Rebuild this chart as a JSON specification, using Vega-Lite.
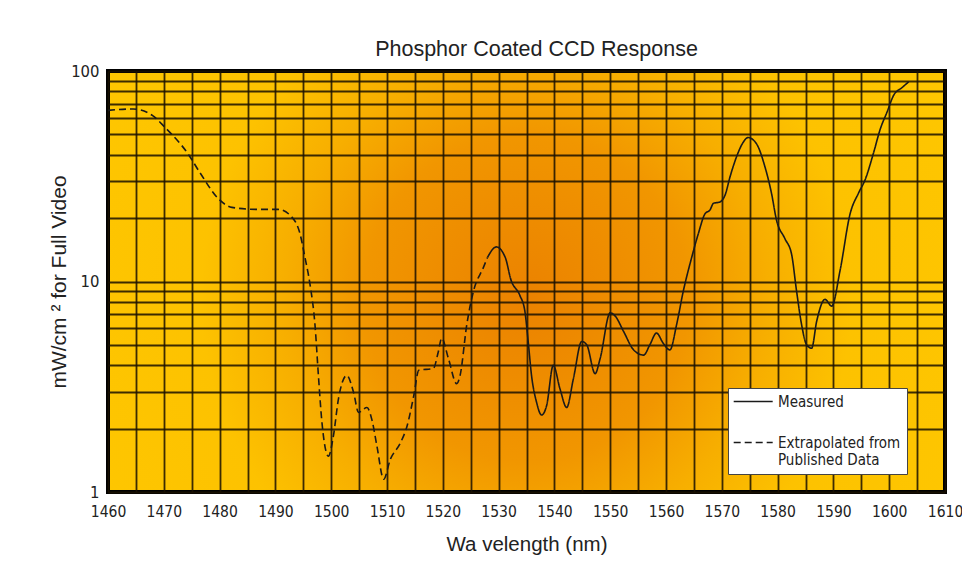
{
  "$schema": "https://vega.github.io/schema/vega-lite/v6.json",
  "width": 837,
  "height": 421,
  "autosize": {"type": "none"},
  "padding": {"left": 108, "top": 71, "right": 17, "bottom": 70},
  "background": "white",
  "title": {
    "text": "Phosphor Coated CCD Response",
    "font": "Liberation Sans",
    "fontSize": 21.5,
    "fontWeight": "normal",
    "color": "#222",
    "offset": 3,
    "dx": 10
  },
  "config": {
    "view": {
      "fill": {
        "gradient": "radial",
        "x1": 0.5, "y1": 0.52, "r1": 0,
        "x2": 0.5, "y2": 0.52, "r2": 0.72,
        "stops": [
          {"offset": 0, "color": "#EB8200"},
          {"offset": 0.27, "color": "#F19600"},
          {"offset": 0.4, "color": "#F7AE00"},
          {"offset": 0.54, "color": "#FDC200"},
          {"offset": 1, "color": "#FFCA00"}
        ]
      },
      "stroke": "#000",
      "strokeWidth": 4
    },
    "font": "DejaVu Sans Condensed, Liberation Sans Narrow, sans-serif"
  },
  "data": {
    "values": [
      {"x": 1460, "y": 65, "series": "Extrapolated from Published Data"},
      {"x": 1464.5, "y": 66, "series": "Extrapolated from Published Data"},
      {"x": 1468, "y": 61.4, "series": "Extrapolated from Published Data"},
      {"x": 1470.2, "y": 54, "series": "Extrapolated from Published Data"},
      {"x": 1474.4, "y": 40.2, "series": "Extrapolated from Published Data"},
      {"x": 1476.5, "y": 32.8, "series": "Extrapolated from Published Data"},
      {"x": 1480, "y": 24.4, "series": "Extrapolated from Published Data"},
      {"x": 1482.2, "y": 22.5, "series": "Extrapolated from Published Data"},
      {"x": 1486.6, "y": 22, "series": "Extrapolated from Published Data"},
      {"x": 1490.5, "y": 22, "series": "Extrapolated from Published Data"},
      {"x": 1492.9, "y": 20.3, "series": "Extrapolated from Published Data"},
      {"x": 1494.4, "y": 16.9, "series": "Extrapolated from Published Data"},
      {"x": 1495.3, "y": 13, "series": "Extrapolated from Published Data"},
      {"x": 1496.2, "y": 9.7, "series": "Extrapolated from Published Data"},
      {"x": 1497.1, "y": 6.2, "series": "Extrapolated from Published Data"},
      {"x": 1497.7, "y": 3.6, "series": "Extrapolated from Published Data"},
      {"x": 1498.3, "y": 2.2, "series": "Extrapolated from Published Data"},
      {"x": 1499.5, "y": 1.48, "series": "Extrapolated from Published Data"},
      {"x": 1500.4, "y": 1.85, "series": "Extrapolated from Published Data"},
      {"x": 1501.3, "y": 2.77, "series": "Extrapolated from Published Data"},
      {"x": 1502.8, "y": 3.58, "series": "Extrapolated from Published Data"},
      {"x": 1504, "y": 2.98, "series": "Extrapolated from Published Data"},
      {"x": 1504.9, "y": 2.39, "series": "Extrapolated from Published Data"},
      {"x": 1506.4, "y": 2.52, "series": "Extrapolated from Published Data"},
      {"x": 1507.3, "y": 2.2, "series": "Extrapolated from Published Data"},
      {"x": 1508.2, "y": 1.65, "series": "Extrapolated from Published Data"},
      {"x": 1509.4, "y": 1.15, "series": "Extrapolated from Published Data"},
      {"x": 1510.6, "y": 1.43, "series": "Extrapolated from Published Data"},
      {"x": 1512.4, "y": 1.71, "series": "Extrapolated from Published Data"},
      {"x": 1513.6, "y": 2.06, "series": "Extrapolated from Published Data"},
      {"x": 1514.8, "y": 2.87, "series": "Extrapolated from Published Data"},
      {"x": 1515.7, "y": 3.79, "series": "Extrapolated from Published Data"},
      {"x": 1518.3, "y": 3.86, "series": "Extrapolated from Published Data"},
      {"x": 1519.2, "y": 4.64, "series": "Extrapolated from Published Data"},
      {"x": 1519.8, "y": 5.38, "series": "Extrapolated from Published Data"},
      {"x": 1521, "y": 4.31, "series": "Extrapolated from Published Data"},
      {"x": 1522.5, "y": 3.27, "series": "Extrapolated from Published Data"},
      {"x": 1523.1, "y": 3.58, "series": "Extrapolated from Published Data"},
      {"x": 1524.3, "y": 6.24, "series": "Extrapolated from Published Data"},
      {"x": 1525.5, "y": 9.0, "series": "Extrapolated from Published Data"},
      {"x": 1527.3, "y": 11.7, "series": "Extrapolated from Published Data"},
      {"x": 1528, "y": 13.0, "series": "Extrapolated from Published Data"},
      {"x": 1528, "y": 13.0, "series": "Measured"},
      {"x": 1529.6, "y": 14.6, "series": "Measured"},
      {"x": 1531.2, "y": 13, "series": "Measured"},
      {"x": 1532.2, "y": 10.2, "series": "Measured"},
      {"x": 1533.8, "y": 8.6, "series": "Measured"},
      {"x": 1534.7, "y": 7.25, "series": "Measured"},
      {"x": 1535.3, "y": 5.19, "series": "Measured"},
      {"x": 1535.9, "y": 3.58, "series": "Measured"},
      {"x": 1536.8, "y": 2.67, "series": "Measured"},
      {"x": 1537.7, "y": 2.32, "series": "Measured"},
      {"x": 1538.6, "y": 2.57, "series": "Measured"},
      {"x": 1539.8, "y": 4.0, "series": "Measured"},
      {"x": 1541, "y": 3.09, "series": "Measured"},
      {"x": 1542.2, "y": 2.52, "series": "Measured"},
      {"x": 1543.4, "y": 3.45, "series": "Measured"},
      {"x": 1544.9, "y": 5.19, "series": "Measured"},
      {"x": 1545.8, "y": 5.0, "series": "Measured"},
      {"x": 1547.3, "y": 3.65, "series": "Measured"},
      {"x": 1548.2, "y": 4.31, "series": "Measured"},
      {"x": 1550, "y": 7.1, "series": "Measured"},
      {"x": 1550.9, "y": 6.85, "series": "Measured"},
      {"x": 1552.4, "y": 5.79, "series": "Measured"},
      {"x": 1554.2, "y": 4.73, "series": "Measured"},
      {"x": 1556, "y": 4.47, "series": "Measured"},
      {"x": 1557.1, "y": 5.0, "series": "Measured"},
      {"x": 1558.3, "y": 5.69, "series": "Measured"},
      {"x": 1559.5, "y": 5.09, "series": "Measured"},
      {"x": 1560.7, "y": 4.73, "series": "Measured"},
      {"x": 1561.9, "y": 6.24, "series": "Measured"},
      {"x": 1563.1, "y": 9.0, "series": "Measured"},
      {"x": 1564.6, "y": 13, "series": "Measured"},
      {"x": 1565.8, "y": 16.9, "series": "Measured"},
      {"x": 1567, "y": 21, "series": "Measured"},
      {"x": 1567.9, "y": 21.9, "series": "Measured"},
      {"x": 1568.5, "y": 23.5, "series": "Measured"},
      {"x": 1569.7, "y": 23.9, "series": "Measured"},
      {"x": 1570.6, "y": 25.8, "series": "Measured"},
      {"x": 1571.5, "y": 31.6, "series": "Measured"},
      {"x": 1572.7, "y": 39.5, "series": "Measured"},
      {"x": 1573.8, "y": 45.7, "series": "Measured"},
      {"x": 1574.7, "y": 48.3, "series": "Measured"},
      {"x": 1576.2, "y": 45.2, "series": "Measured"},
      {"x": 1577.7, "y": 35.3, "series": "Measured"},
      {"x": 1578.9, "y": 26.3, "series": "Measured"},
      {"x": 1579.8, "y": 19.6, "series": "Measured"},
      {"x": 1581.3, "y": 16, "series": "Measured"},
      {"x": 1582.5, "y": 13.5, "series": "Measured"},
      {"x": 1583.4, "y": 9.0, "series": "Measured"},
      {"x": 1584.3, "y": 6.24, "series": "Measured"},
      {"x": 1585.2, "y": 5.0, "series": "Measured"},
      {"x": 1586.1, "y": 4.82, "series": "Measured"},
      {"x": 1587, "y": 6.47, "series": "Measured"},
      {"x": 1588.5, "y": 8.22, "series": "Measured"},
      {"x": 1589.7, "y": 7.64, "series": "Measured"},
      {"x": 1591.2, "y": 11.3, "series": "Measured"},
      {"x": 1593, "y": 21, "series": "Measured"},
      {"x": 1594.5, "y": 26.3, "series": "Measured"},
      {"x": 1595.7, "y": 30.5, "series": "Measured"},
      {"x": 1597.2, "y": 40.9, "series": "Measured"},
      {"x": 1598.4, "y": 53, "series": "Measured"},
      {"x": 1599.6, "y": 63.7, "series": "Measured"},
      {"x": 1600.8, "y": 76.7, "series": "Measured"},
      {"x": 1602.3, "y": 83.4, "series": "Measured"},
      {"x": 1603.5, "y": 88.9, "series": "Measured"}
    ]
  },
  "mark": {"type": "line", "interpolate": "monotone", "color": "#1a1a1a", "strokeWidth": 1.6},
  "encoding": {
    "x": {
      "field": "x",
      "type": "quantitative",
      "scale": {"domain": [1460, 1610], "nice": false, "zero": false},
      "axis": {
        "title": "Wa velength (nm)",
        "values": [1460,1465,1470,1475,1480,1485,1490,1495,1500,1505,1510,1515,1520,1525,1530,1535,1540,1545,1550,1555,1560,1565,1570,1575,1580,1585,1590,1595,1600,1605,1610],
        "format": "d",
        "labelExpr": "datum.value % 10 === 0 ? datum.label : ''",
        "grid": true,
        "gridColor": "#1a1000",
        "gridWidth": 1.8,
        "gridOpacity": 0.85,
        "domain": false,
        "ticks": false,
        "labelPadding": 12,
        "labelFontSize": 15.5,
        "labelColor": "#222",
        "labelFlush": false,
        "labelOverlap": false,
        "titleFont": "Liberation Sans",
        "titleFontSize": 20.5,
        "titleFontWeight": "normal",
        "titleColor": "#222",
        "titlePadding": 15
      }
    },
    "y": {
      "field": "y",
      "type": "quantitative",
      "scale": {"type": "log", "domain": [1, 100], "nice": false},
      "axis": {
        "title": "mW/cm ² for Full  Video",
        "values": [1,2,3,4,5,6,7,8,9,10,20,30,40,50,60,70,80,90,100],
        "format": "d",
        "labelExpr": "datum.value == 1 || datum.value == 10 || datum.value == 100 ? datum.label : ''",
        "grid": true,
        "gridColor": "#1a1000",
        "gridWidth": 1.8,
        "gridOpacity": 0.85,
        "domain": false,
        "ticks": false,
        "labelPadding": 9,
        "labelFontSize": 16.5,
        "labelColor": "#222",
        "labelOverlap": false,
        "labelFlush": false,
        "titleFont": "Liberation Sans",
        "titleFontSize": 21,
        "titleFontWeight": "normal",
        "titleColor": "#222",
        "titlePadding": 1
      }
    },
    "strokeDash": {
      "field": "series",
      "type": "nominal",
      "scale": {"domain": ["Measured", "Extrapolated from Published Data"], "range": [[1, 0], [7, 4]]},
      "legend": {
        "title": null,
        "orient": "none",
        "legendX": 620,
        "legendY": 317,
        "fillColor": "white",
        "strokeColor": "#444",
        "padding": 6,
        "symbolType": "M-1.6,0H6.4",
        "symbolSize": 95,
        "symbolStrokeWidth": 1.5,
        "symbolStrokeColor": "#1a1a1a",
        "labelFontSize": 15,
        "labelColor": "#222",
        "labelOffset": 29,
        "labelLimit": 200,
        "rowPadding": 25,
        "labelExpr": "datum.label == 'Measured' ? 'Measured' : ['Extrapolated from', 'Published Data']"
      }
    }
  }
}
